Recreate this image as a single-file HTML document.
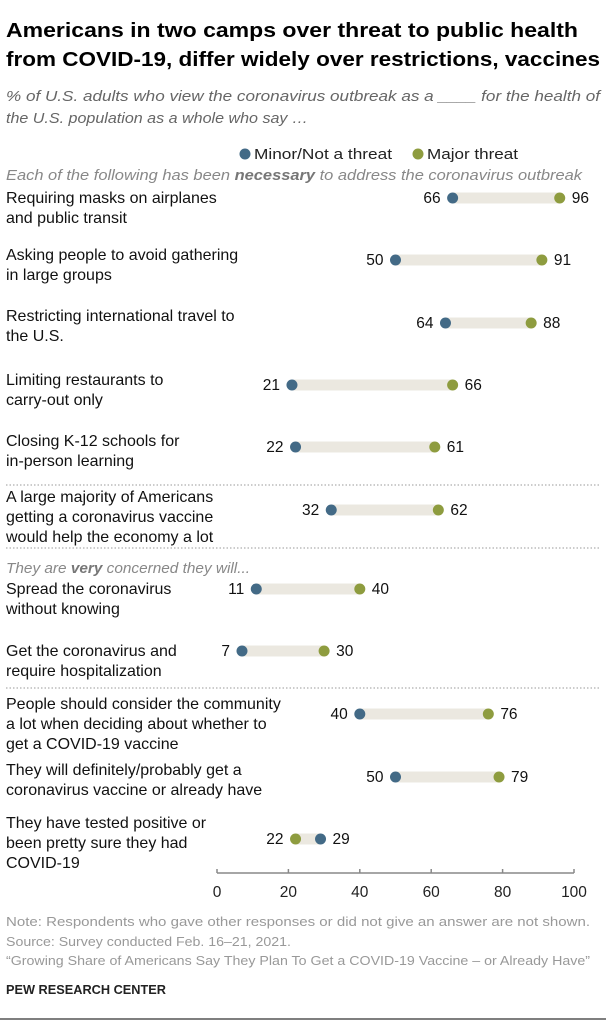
<!DOCTYPE html>
<html><head><meta charset="utf-8"><style>
body{margin:0;background:#fff;width:606px;height:1024px;overflow:hidden}
svg text{font-family:"Liberation Sans",sans-serif}
</style></head><body>
<svg width="606" height="1024" id="svg">
<text x="6" y="37" font-size="20.5" font-weight="bold" fill="#000" textLength="572" lengthAdjust="spacingAndGlyphs">Americans in two camps over threat to public health</text>
<text x="6" y="66" font-size="20.5" font-weight="bold" fill="#000" textLength="594" lengthAdjust="spacingAndGlyphs">from COVID-19, differ widely over restrictions, vaccines</text>
<text x="6" y="101" font-size="14.5" font-style="italic" fill="#666" textLength="594" lengthAdjust="spacingAndGlyphs">% of U.S. adults who view the coronavirus outbreak as a ____ for the health of</text>
<text x="6" y="123" font-size="14.5" font-style="italic" fill="#666" textLength="302" lengthAdjust="spacingAndGlyphs">the U.S. population as a whole who say …</text>
<circle cx="245" cy="154" r="5.5" fill="#436a86"/>
<text x="254" y="159" font-size="14.5" fill="#222" textLength="138" lengthAdjust="spacingAndGlyphs">Minor/Not a threat</text>
<circle cx="418" cy="154" r="5.5" fill="#8e9c3f"/>
<text x="427" y="159" font-size="14.5" fill="#222" textLength="91" lengthAdjust="spacingAndGlyphs">Major threat</text>
<text x="6" y="180" font-size="14.5" font-style="italic" fill="#888" textLength="576" lengthAdjust="spacingAndGlyphs">Each of the following has been <tspan font-weight="bold" fill="#777">necessary</tspan> to address the coronavirus outbreak</text>
<text x="6" y="573" font-size="14.5" font-style="italic" fill="#888" textLength="244" lengthAdjust="spacingAndGlyphs">They are <tspan font-weight="bold" fill="#777">very</tspan> concerned they will...</text>
<line x1="6" x2="600" y1="485" y2="485" stroke="#999" stroke-dasharray="1.5,2"/>
<line x1="6" x2="600" y1="548" y2="548" stroke="#999" stroke-dasharray="1.5,2"/>
<line x1="6" x2="600" y1="688" y2="688" stroke="#999" stroke-dasharray="1.5,2"/>
<line x1="0" x2="606" y1="1019" y2="1019" stroke="#555" stroke-width="1.5"/>
<g id="rows"></g>
<g id="axis"></g>
<text x="6" y="926" font-size="12.5" fill="#999" textLength="584" lengthAdjust="spacingAndGlyphs">Note: Respondents who gave other responses or did not give an answer are not shown.</text>
<text x="6" y="946" font-size="12.5" fill="#999" textLength="285" lengthAdjust="spacingAndGlyphs">Source: Survey conducted Feb. 16–21, 2021.</text>
<text x="6" y="965" font-size="12.5" fill="#999" textLength="584" lengthAdjust="spacingAndGlyphs">“Growing Share of Americans Say They Plan To Get a COVID-19 Vaccine – or Already Have”</text>
<text x="6" y="994" font-size="13" font-weight="bold" fill="#222" textLength="160" lengthAdjust="spacingAndGlyphs">PEW RESEARCH CENTER</text>
</svg>
<script>
const categories=[
["Requiring masks on airplanes","and public transit"],
["Asking people to avoid gathering","in large groups"],
["Restricting international travel to","the U.S."],
["Limiting restaurants to","carry-out only"],
["Closing K-12 schools for","in-person learning"],
["A large majority of Americans","getting a coronavirus vaccine","would help the economy a lot"],
["Spread the coronavirus","without knowing"],
["Get the coronavirus and","require hospitalization"],
["People should consider the community","a lot when deciding about whether to","get a COVID-19 vaccine"],
["They will definitely/probably get a","coronavirus vaccine or already have"],
["They have tested positive or","been pretty sure they had","COVID-19"]];
const minorValues=[66,50,64,21,22,32,11,7,40,50,29];
const majorValues=[96,91,88,66,61,62,40,30,76,79,22];
const tickLabels=[0,20,40,60,80,100];
const rowY=[198,260,323,385,447,510,589,651,714,777,839];
const labelTop=[198,255,316,380,441,497,589,651,704,770,823];
const NS="http://www.w3.org/2000/svg";
const x=v=>217+v*3.57;
function mk(t,a,p){const e=document.createElementNS(NS,t);for(const k in a)e.setAttribute(k,a[k]);p.appendChild(e);return e;}
const rows=document.getElementById('rows');
categories.forEach((lines,i)=>{
 const cy=rowY[i];
 const g=mk('g',{},rows);
 
 
 const top=labelTop[i]+5;
 lines.forEach((l,j)=>{const t=mk('text',{x:6,y:top+j*20,'font-size':16,fill:'#111'},g);t.textContent=l;
  
  });
 const a=minorValues[i],b=majorValues[i],lo=Math.min(a,b),hi=Math.max(a,b);
 const bar=mk('line',{x1:x(lo),x2:x(hi),y1:cy,y2:cy,stroke:'#ebe8e0','stroke-width':11},g);
 
 
 const c1=mk('circle',{cx:x(a),cy:cy,r:5.5,fill:'#436a86'},g);
 
 
 const c2=mk('circle',{cx:x(b),cy:cy,r:5.5,fill:'#8e9c3f'},g);
 
 
 const aLeft=a<=b;
 const t1=mk('text',{x:aLeft?x(a)-12:x(a)+12,y:cy+5,'font-size':15.5,fill:'#111','text-anchor':aLeft?'end':'start'},g);t1.textContent=a;
 
 
 const t2=mk('text',{x:aLeft?x(b)+12:x(b)-12,y:cy+5,'font-size':15.5,fill:'#111','text-anchor':aLeft?'start':'end'},g);t2.textContent=b;
 
 
});
const ax=document.getElementById('axis');
const al=mk('line',{x1:x(0),x2:x(100),y1:873,y2:873,stroke:'#888','stroke-width':1.5},ax);


tickLabels.forEach(v=>{
 const tk=mk('line',{x1:x(v),x2:x(v),y1:869,y2:873,stroke:'#888','stroke-width':1.5},ax);
 
 
 const t=mk('text',{x:x(v),y:897,'font-size':15.5,fill:'#222','text-anchor':'middle'},ax);t.textContent=v;
 
 
});
</script>
</body></html>
